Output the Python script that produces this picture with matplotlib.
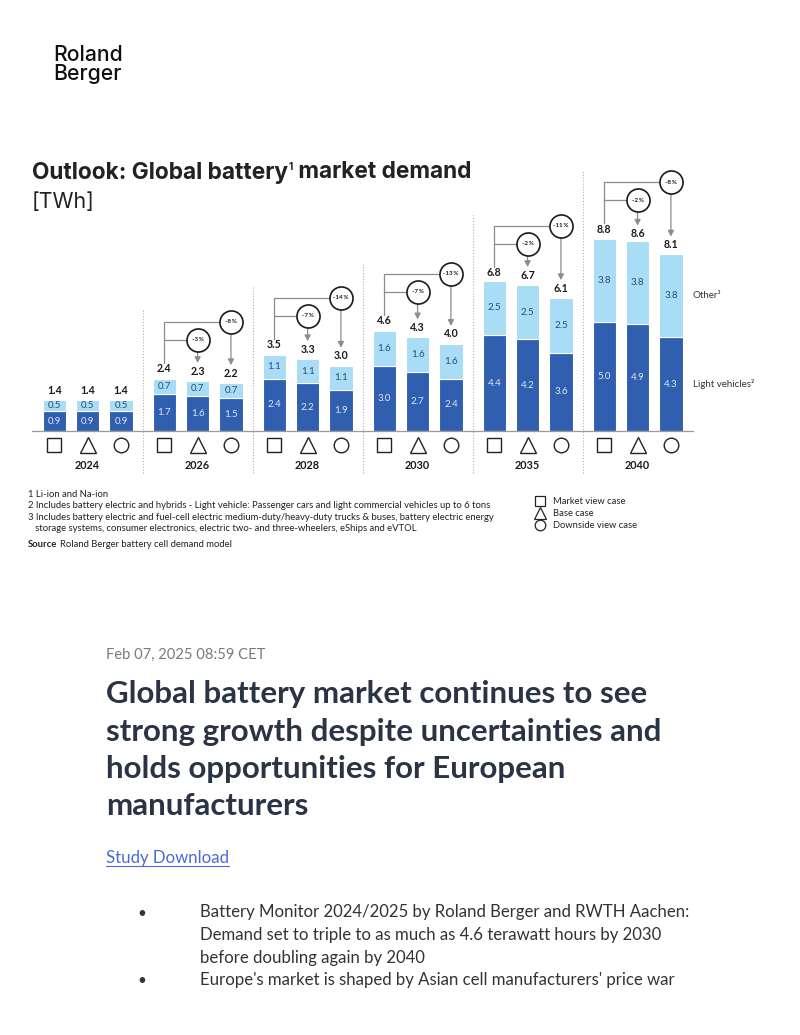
import matplotlib
matplotlib.use("Agg")
import matplotlib.pyplot as plt
from matplotlib.lines import Line2D

# ---------------- data ----------------
years = ["2024", "2026", "2028", "2030", "2035", "2040"]
cases = ["Market view case", "Base case", "Downside view case"]
light_vehicles = [[0.9, 0.9, 0.9], [1.7, 1.6, 1.5], [2.4, 2.2, 1.9],
                  [3.0, 2.7, 2.4], [4.4, 4.2, 3.6], [5.0, 4.9, 4.3]]
other = [[0.5, 0.5, 0.5], [0.7, 0.7, 0.7], [1.1, 1.1, 1.1],
         [1.6, 1.6, 1.6], [2.5, 2.5, 2.5], [3.8, 3.8, 3.8]]
totals = [[1.4, 1.4, 1.4], [2.4, 2.3, 2.2], [3.5, 3.3, 3.0],
          [4.6, 4.3, 4.0], [6.8, 6.7, 6.1], [8.8, 8.6, 8.1]]
base_diff = [None, "-3%", "-7%", "-7%", "-2%", "-2%"]
down_diff = [None, "-8%", "-14%", "-13%", "-11%", "-8%"]
footnotes = [
    "1 Li-ion and Na-ion",
    "2 Includes battery electric and hybrids - Light vehicle: Passenger cars and light commercial vehicles up to 6 tons",
    "3 Includes battery electric and fuel-cell electric medium-duty/heavy-duty trucks & buses, battery electric energy",
    "   storage systems, consumer electronics, electric two- and three-wheelers, eShips and eVTOL",
]
headline = ["Global battery market continues to see",
            "strong growth despite uncertainties and",
            "holds opportunities for European",
            "manufacturers"]
bullets = [["Battery Monitor 2024/2025 by Roland Berger and RWTH Aachen:",
            "Demand set to triple to as much as 4.6 terawatt hours by 2030",
            "before doubling again by 2040"],
           ["Europe's market is shaped by Asian cell manufacturers' price war"]]

# ---------------- style ----------------
DARK = "#2f5fae"
LIGHT = "#a9dcf5"
GRAY = "#8c8c8c"
plt.rcParams["font.family"] = ["Lato", "DejaVu Sans"]
GEO = ["Inter", "Lato", "DejaVu Sans"]

W, H = 800, 1035
fig = plt.figure(figsize=(W / 100, H / 100), dpi=100)
renderer = fig.canvas.get_renderer()


def fx(px):
    return px / W


def fy(py):
    return 1 - py / H


def width(t):
    return t.get_window_extent(renderer).width


def fit(t, target_px):
    t.set_fontsize(t.get_fontsize() * target_px / width(t))
    return t


# chart axes: data x unit = 33.33 px, y unit = 21.8 px
XU, YU = 33.33, 21.8
X0PX, BASEPX = 54.3, 431
ax_l, ax_r, ax_t, ax_b = 20, 780, 140, 480
ax = fig.add_axes([fx(ax_l), fy(ax_b), (ax_r - ax_l) / W, (ax_b - ax_t) / H])
ax.set_xlim((ax_l - X0PX) / XU, (ax_r - X0PX) / XU)
ax.set_ylim((BASEPX - ax_b) / YU, (BASEPX - ax_t) / YU)
ax.axis("off")

GAP = 3.3
markers = ["s", "^", "o"]
msizes = [10, 11.5, 10.5]
rad = 11.5 / YU  # circle radius in y data units

xs_all = []
for g, yr in enumerate(years):
    xs = [g * GAP + c for c in range(3)]
    xs_all += xs
    lv, ot, tot = light_vehicles[g], other[g], totals[g]
    ax.bar(xs, lv, width=0.7, color=DARK, edgecolor="white", linewidth=0.8, zorder=2)
    ax.bar(xs, ot, width=0.7, bottom=lv, color=LIGHT, edgecolor="white", linewidth=0.8, zorder=2)
    for c in range(3):
        x = xs[c]
        ax.text(x, lv[c] / 2, f"{lv[c]:.1f}", ha="center", va="center",
                fontsize=7, color="#dfe6f6", zorder=3)
        ax.text(x, lv[c] + ot[c] / 2, f"{ot[c]:.1f}", ha="center", va="center",
                fontsize=7, color="#2c4a7c", zorder=3)
        ax.text(x, tot[c] + 0.45, f"{tot[c]:.1f}", ha="center", va="center",
                fontsize=7.6, fontweight="bold", color="#1a1a1a", zorder=3)
        ax.plot(x, -0.64, marker=markers[c], ms=msizes[c], mfc="white",
                mec="#222222", mew=1.0, clip_on=False, zorder=3)
    ax.text(xs[1], -1.59, yr, ha="center", va="center", fontsize=7.8,
            fontweight="bold", color="#1a1a1a")

    if base_diff[g] is not None:
        T = tot[0]
        y_top = T + 2.61
        y_low = T + 1.79
        ax.plot([xs[0], xs[0], xs[2]], [T + 0.72, y_top, y_top], color=GRAY, lw=0.9, zorder=2)
        ax.plot([xs[0], xs[1]], [y_low, y_low], color=GRAY, lw=0.9, zorder=2)
        for c, yc, lab in [(1, y_low, base_diff[g]), (2, y_top, down_diff[g])]:
            ax.annotate("", xy=(xs[c], tot[c] + 0.82), xytext=(xs[c], yc),
                        arrowprops=dict(arrowstyle="-|>,head_length=0.35,head_width=0.18",
                                        color=GRAY, lw=0.9, shrinkA=0, shrinkB=0),
                        zorder=2)
            ax.plot(xs[c], yc, "o", ms=16.6, mfc="white", mec="#1a1a1a", mew=1.2, zorder=4)
            ax.text(xs[c], yc, lab.replace("%", "\u2009%"), ha="center", va="center",
                    fontsize=4.5, fontweight="bold", color="#1a1a1a", zorder=5)
        # separator to the left of this group
        xsep = xs[0] - (GAP - 2) / 2
        ax.plot([xsep, xsep], [-1.93, y_top + rad], color="#b0b0b0", lw=0.8,
                linestyle=(0, (1, 1.6)), zorder=1)

# baseline
ax.plot([xs_all[0] - 0.67, xs_all[-1] + 0.65], [0, 0], color="#9a9a9a", lw=0.9, zorder=3)

# segment names at right of last bar
xl = xs_all[-1] + 0.65
ax.text(xl, light_vehicles[-1][2] + other[-1][2] / 2, "Other\u00b3", ha="left",
        va="center", fontsize=7, color="#333333")
ax.text(xl, light_vehicles[-1][2] / 2, "Light vehicles\u00b2", ha="left",
        va="center", fontsize=7, color="#333333")

# ---------------- page texts ----------------
t = fig.text(fx(53), fy(61), "Roland", fontsize=14.5, fontweight="medium",
             family=GEO, color="#111111", va="baseline")
fit(t, 70)
fig.text(fx(53), fy(80.5), "Berger", fontsize=t.get_fontsize(), fontweight="medium",
         family=GEO, color="#111111", va="baseline")

# title with a small raised footnote mark
probe = fig.text(0, 0, "Outlook: Global battery1 market demand", fontsize=14,
                 fontweight="bold", family=GEO)
fit(probe, 446)
tsz = probe.get_fontsize()
probe.remove()
t1 = fig.text(fx(32), fy(178.5), "Outlook: Global battery", fontsize=tsz,
              fontweight="bold", family=GEO, color="#222222", va="baseline")
x_sup = 32 + width(t1) + 1
t_sup = fig.text(fx(x_sup), fy(170.5), "1", fontsize=tsz * 0.45, fontweight="bold",
                 family=GEO, color="#222222", va="baseline")
x_rest = x_sup + width(t_sup)
fig.text(fx(x_rest), fy(178.5), " market demand", fontsize=tsz, fontweight="bold",
         family=GEO, color="#222222", va="baseline")
t = fig.text(fx(32), fy(208), "[TWh]", fontsize=14, family=GEO,
             color="#222222", va="baseline")
fit(t, 63)

fn_y = [497, 508.5, 519.8, 531]
fts = []
for s, yy in zip(footnotes, fn_y):
    fts.append(fig.text(fx(28), fy(yy), s, fontsize=6, color="#222222", va="baseline"))
fit(fts[1], 464)
fsz = fts[1].get_fontsize()
for tt in fts:
    tt.set_fontsize(fsz)
ts = fig.text(fx(28), fy(547), "Source", fontsize=fsz, fontweight="bold",
              color="#222222", va="baseline")
sw = width(ts)
fig.text(fx(28 + sw + 3), fy(547), "Roland Berger battery cell demand model", fontsize=fsz,
         color="#222222", va="baseline")

leg_y = [504, 516, 528]
lsz = None
for m, ms, lab, yy in zip(markers, [7, 8.2, 7.6], cases, leg_y):
    fig.add_artist(Line2D([fx(540)], [fy(yy - 3.5)], marker=m, ms=ms, mfc="white",
                          mec="#222222", mew=0.9, transform=fig.transFigure))
    lt = fig.text(fx(553), fy(yy), lab, fontsize=7, color="#222222", va="baseline")
    if lsz is None:
        fit(lt, 72)
        lsz = lt.get_fontsize()
    else:
        lt.set_fontsize(lsz)

t = fig.text(fx(106), fy(658.5), "Feb 07, 2025 08:59 CET", fontsize=9, color="#7a7a7a",
             va="baseline")
fit(t, 159)
ht = fig.text(fx(106), fy(703.5), headline[0], fontsize=18.5, fontweight="bold",
              color="#2b3445", va="baseline")
fit(ht, 542)
for i, line in enumerate(headline[1:], start=1):
    fig.text(fx(106), fy(703.5 + i * 37.3), line, fontsize=ht.get_fontsize(), fontweight="bold",
             color="#2b3445", va="baseline")

t = fig.text(fx(106), fy(862.5), "Study Download", fontsize=10.1, color="#4a6ad8", va="baseline")
fit(t, 123)
fig.add_artist(Line2D([fx(106), fx(229)], [fy(865.5), fy(865.5)], color="#4a6ad8",
                      lw=0.8, transform=fig.transFigure))

yy = 917.5
bsz = None
for blk in bullets:
    fig.text(fx(137.5), fy(yy), "\u2022", fontsize=11, color="#333333", va="baseline")
    for line in blk:
        bt = fig.text(fx(200), fy(yy), line, fontsize=11, color="#333333", va="baseline")
        if bsz is None:
            fit(bt, 488)
            bsz = bt.get_fontsize()
        else:
            bt.set_fontsize(bsz)
        yy += 22.6

fig.savefig("out.png", dpi=100, facecolor="white")
